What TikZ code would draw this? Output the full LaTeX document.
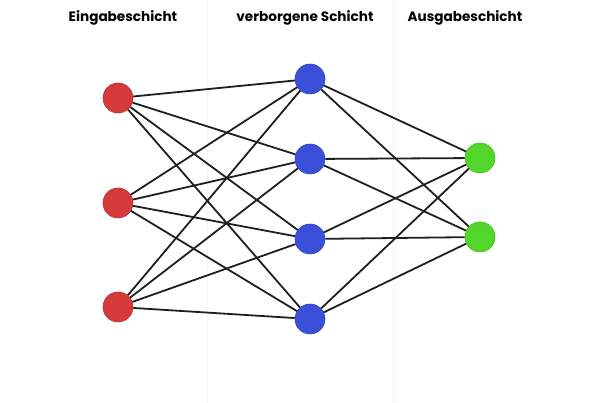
\documentclass[tikz,border=0pt]{standalone}
\usepackage{fontspec}
\setmainfont{Poppins}
\usetikzlibrary{positioning}
\definecolor{inred}{HTML}{D63A3A}
\definecolor{hidblue}{HTML}{3B50D8}
\definecolor{outgreen}{HTML}{52D62A}
\tikzset{
  neuron/.style={circle, minimum size=30pt, inner sep=0pt, line width=0.6pt},
  title/.style={font=\bfseries\fontsize{13.6}{16}\selectfont},
  link/.style={line width=1.8pt, color=black!88},
}

\begin{document}
\begin{tikzpicture}[x=1pt, y=-1pt]
		%%%%% START %%%%%
		\useasboundingbox (0, 0) rectangle (590, 403);
		
		\draw[line width=1pt, color=black!4] (207, 0) -- (207, 403);
		\draw[line width=1pt, color=black!4] (393, 0) -- (393, 403);
		
		\node[title] (tin) at (123, 18) {Eingabeschicht};
		\node[title] (thid) at (305, 18) {verborgene Schicht};
		\node[title] (tout) at (465, 18) {Ausgabeschicht};
		
		\foreach \i/\y in {1/98, 2/203, 3/307}
			\node[neuron, fill=inred, draw=inred!85!black] (in\i) at (118, \y) {};
		\foreach \j/\y in {1/79, 2/159, 3/239, 4/319}
			\node[neuron, fill=hidblue, draw=hidblue!85!black] (hid\j) at (310, \y) {};
		\foreach \k/\y in {1/158, 2/237}
			\node[neuron, fill=outgreen, draw=outgreen!85!black] (out\k) at (480, \y) {};
		
		\foreach \i in {1,2,3}
			\foreach \j in {1,2,3,4}
				\draw[link] (in\i) -- (hid\j);
		\foreach \j in {1,2,3,4}
			\foreach \k in {1,2}
				\draw[link] (hid\j) -- (out\k);
		
		%%%%% END %%%%%
	\end{tikzpicture}
\end{document}
